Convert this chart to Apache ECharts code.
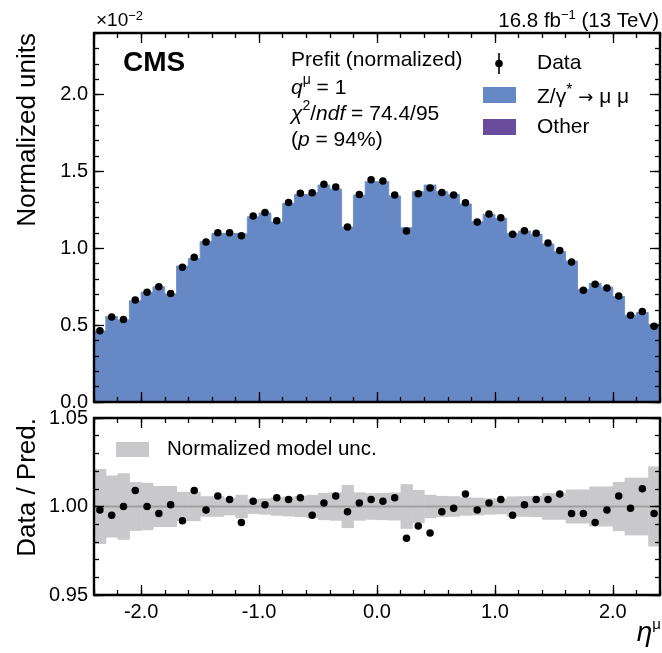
<!DOCTYPE html>
<html>
<head>
<meta charset="utf-8">
<script src="https://cdn.jsdelivr.net/npm/echarts@6/dist/echarts.min.js"></script>
<style>html,body{margin:0;padding:0;background:#fff}#c{width:662px;height:653px}</style>
</head>
<body>
<div id="c"></div>
<script>
// ---- data ----
const etaEdges = [-2.4,-2.3,-2.2,-2.1,-2.0,-1.9,-1.8,-1.7,-1.6,-1.5,-1.4,-1.3,-1.2,-1.1,-1.0,-0.9,-0.8,-0.7,-0.6,-0.5,-0.4,-0.3,-0.2,-0.1,
  0.0,0.1,0.2,0.3,0.4,0.5,0.6,0.7,0.8,0.9,1.0,1.1,1.2,1.3,1.4,1.5,1.6,1.7,1.8,1.9,2.0,2.1,2.2,2.3,2.4];
// Z/gamma* -> mumu prediction (x 10^-2)
const predZmumu = [0.463,0.556,0.534,0.658,0.714,0.749,0.703,0.885,0.933,1.043,1.097,1.097,1.093,1.205,1.229,1.171,1.292,1.350,1.363,1.411,1.385,1.138,1.346,1.433,
  1.433,1.340,1.134,1.368,1.411,1.368,1.350,1.288,1.173,1.221,1.195,1.097,1.112,1.091,1.028,0.978,0.917,0.733,0.772,0.747,0.686,0.565,0.582,0.506];
// observed data (x 10^-2)
const dataValues = [0.463,0.553,0.537,0.664,0.714,0.749,0.705,0.876,0.941,1.041,1.101,1.101,1.082,1.210,1.233,1.179,1.298,1.357,1.361,1.416,1.398,1.138,1.350,1.446,
  1.437,1.346,1.112,1.355,1.392,1.363,1.346,1.296,1.171,1.223,1.199,1.091,1.114,1.097,1.034,0.985,0.911,0.727,0.766,0.742,0.690,0.565,0.588,0.493];
// data / prediction
const ratioValues = [0.998,0.995,1.000,1.009,1.000,0.996,1.001,0.992,1.009,0.998,1.006,1.004,0.991,1.003,1.001,1.005,1.004,1.005,0.995,1.002,1.006,0.997,1.002,1.004,
  1.003,1.005,0.982,0.989,0.985,0.997,0.999,1.007,0.998,1.002,1.004,0.995,1.001,1.004,1.004,1.007,0.996,0.996,0.991,0.998,1.006,0.999,1.010,0.996];
// normalized model uncertainty (relative half width)
const modelUnc = [0.0212,0.0175,0.0188,0.0138,0.0134,0.0116,0.0116,0.0083,0.0083,0.0058,0.0058,0.0050,0.0066,0.0042,0.0046,0.0052,0.0056,0.0060,0.0066,0.0077,0.0080,0.0122,0.0080,0.0075,
  0.0077,0.0079,0.0126,0.0094,0.0066,0.0060,0.0058,0.0052,0.0050,0.0046,0.0044,0.0057,0.0058,0.0060,0.0075,0.0075,0.0096,0.0096,0.0113,0.0113,0.0139,0.0163,0.0163,0.0226];
// ticks
const xMajorTicks = [-2, -1, 0, 1, 2];
const xMinorTicks = [-2.4,-2.2,-2.0,-1.8,-1.6,-1.4,-1.2,-1.0,-0.8,-0.6,-0.4,-0.2,0,0.2,0.4,0.6,0.8,1.0,1.2,1.4,1.6,1.8,2.0,2.2,2.4];
const yMainMajorTicks = [0, 0.5, 1.0, 1.5, 2.0];
const yMainMinorTicks = [0,0.1,0.2,0.3,0.4,0.5,0.6,0.7,0.8,0.9,1.0,1.1,1.2,1.3,1.4,1.5,1.6,1.7,1.8,1.9,2.0,2.1,2.2,2.3,2.4];
const yRatioMajorTicks = [0.95, 1.00, 1.05];
const yRatioMinorTicks = [0.95,0.96,0.97,0.98,0.99,1.00,1.01,1.02,1.03,1.04,1.05];

// ---- styling ----
const FF = '"Liberation Sans", Arial, Helvetica, sans-serif';
const BLUE = '#6688c5', PURPLE = '#6a4c9c', GREY = '#c9c9cb';
const TS = 21; // annotation font size

function mkAxis(o) {
  return {
    type: 'value', gridIndex: o.grid, position: o.pos, min: o.min, max: o.max, z: 10,
    axisLine: { show: !!o.line, onZero: false, lineStyle: { color: '#000', width: 2.4 } },
    axisTick: { show: true, inside: true, length: o.len, customValues: o.ticks, lineStyle: { color: '#000', width: 1.3 } },
    axisLabel: o.labels ? { show: true, customValues: o.labels, margin: o.margin, color: '#000', fontSize: 20, fontFamily: FF, formatter: o.fmt } : { show: false },
    splitLine: { show: false }, minorTick: { show: false }, minorSplitLine: { show: false }
  };
}
const f1 = v => v.toFixed(1), f2 = v => v.toFixed(2);
const xAxes = [], yAxes = [];
[0, 1].forEach(g => {
  xAxes.push(mkAxis({ grid: g, pos: 'bottom', min: -2.4, max: 2.4, line: true, len: 10, ticks: xMajorTicks, labels: g === 1 ? xMajorTicks : null, margin: 7, fmt: f1 }));
  xAxes.push(mkAxis({ grid: g, pos: 'bottom', min: -2.4, max: 2.4, len: 5, ticks: xMinorTicks }));
  xAxes.push(mkAxis({ grid: g, pos: 'top', min: -2.4, max: 2.4, line: true, len: 10, ticks: xMajorTicks }));
  xAxes.push(mkAxis({ grid: g, pos: 'top', min: -2.4, max: 2.4, len: 5, ticks: xMinorTicks }));
});
yAxes.push(mkAxis({ grid: 0, pos: 'left', min: 0, max: 2.4, line: true, len: 10, ticks: yMainMajorTicks, labels: yMainMajorTicks, margin: 6, fmt: f1 }));
yAxes.push(mkAxis({ grid: 0, pos: 'left', min: 0, max: 2.4, len: 5, ticks: yMainMinorTicks }));
yAxes.push(mkAxis({ grid: 0, pos: 'right', min: 0, max: 2.4, line: true, len: 10, ticks: yMainMajorTicks }));
yAxes.push(mkAxis({ grid: 0, pos: 'right', min: 0, max: 2.4, len: 5, ticks: yMainMinorTicks }));
yAxes.push(mkAxis({ grid: 1, pos: 'left', min: 0.95, max: 1.05, line: true, len: 10, ticks: yRatioMajorTicks, labels: yRatioMajorTicks, margin: 6, fmt: f2 }));
yAxes.push(mkAxis({ grid: 1, pos: 'left', min: 0.95, max: 1.05, len: 5, ticks: yRatioMinorTicks }));
yAxes.push(mkAxis({ grid: 1, pos: 'right', min: 0.95, max: 1.05, line: true, len: 10, ticks: yRatioMajorTicks }));
yAxes.push(mkAxis({ grid: 1, pos: 'right', min: 0.95, max: 1.05, len: 5, ticks: yRatioMinorTicks }));

const centers = etaEdges.slice(0, -1).map((e, i) => (e + etaEdges[i + 1]) / 2);
// step histogram outline: value held from each left edge to the next edge
const histStep = predZmumu.map((v, i) => [etaEdges[i], v]);
histStep.push([etaEdges[etaEdges.length - 1], predZmumu[predZmumu.length - 1]]);

function txt(x, y, text, extra, rich) {
  const st = Object.assign({ text: text, fill: '#000', fontFamily: FF, fontSize: TS, align: 'left', verticalAlign: 'middle' }, extra || {});
  if (rich) st.rich = rich;
  return { type: 'text', x: x, y: y, z: 100, style: st };
}
const supRich = {
  n: { fontFamily: FF, fontSize: TS, lineHeight: 25, verticalAlign: 'bottom' },
  i: { fontFamily: FF, fontSize: TS, fontStyle: 'italic', lineHeight: 25, verticalAlign: 'bottom' },
  a: { fontFamily: '"DejaVu Sans", sans-serif', fontSize: 18, lineHeight: 25, verticalAlign: 'bottom' },
  s: { fontFamily: FF, fontSize: 14, verticalAlign: 'top', lineHeight: 15 },
  st: { fontFamily: FF, fontSize: 16, verticalAlign: 'top', lineHeight: 17 }
};

const option = {
  animation: false,
  backgroundColor: '#fff',
  grid: [
    { left: 94, top: 33, width: 566, height: 369, containLabel: false, outerBoundsMode: 'none' },
    { left: 94, top: 418, width: 566, height: 177, containLabel: false, outerBoundsMode: 'none' }
  ],
  xAxis: xAxes,
  yAxis: yAxes,
  series: [
    {
      name: 'Z/γ* → μμ', type: 'line', step: 'end', xAxisIndex: 0, yAxisIndex: 0, z: 2,
      showSymbol: false, silent: true,
      lineStyle: { width: 1, color: '#7594cc' },
      areaStyle: { color: BLUE, opacity: 1, origin: 'start' },
      data: histStep
    },
    {
      name: 'Data', type: 'scatter', xAxisIndex: 0, yAxisIndex: 0, z: 5,
      symbol: 'circle', symbolSize: 7.5, itemStyle: { color: '#000', opacity: 1 },
      data: dataValues.map((v, i) => [centers[i], v])
    },
    {
      name: 'Normalized model unc.', type: 'custom', xAxisIndex: 4, yAxisIndex: 4, z: 2,
      data: modelUnc.map((u, i) => [etaEdges[i], etaEdges[i + 1], 1 - u, 1 + u]),
      encode: { x: [0, 1], y: [2, 3] },
      renderItem: function (params, api) {
        const p0 = api.coord([api.value(0), api.value(3)]);
        const p1 = api.coord([api.value(1), api.value(2)]);
        return { type: 'rect', shape: { x: p0[0], y: p0[1], width: p1[0] - p0[0] + 0.5, height: p1[1] - p0[1] },
          style: { fill: GREY } };
      }
    },
    {
      type: 'line', xAxisIndex: 4, yAxisIndex: 4, z: 3, showSymbol: false, silent: true,
      lineStyle: { color: '#a0a0a0', width: 2 },
      data: [[etaEdges[0], 1], [etaEdges[etaEdges.length - 1], 1]]
    },
    {
      name: 'Data / Pred.', type: 'scatter', xAxisIndex: 4, yAxisIndex: 4, z: 5,
      symbol: 'circle', symbolSize: 7.5, itemStyle: { color: '#000', opacity: 1 },
      data: ratioValues.map((v, i) => [centers[i], v])
    }
  ],
  graphic: [
    // header
    txt(96, 20, '{n|×10}{s|−2}', {}, { n: { fontFamily: FF, fontSize: 19, lineHeight: 21, verticalAlign: 'bottom' }, s: { fontFamily: FF, fontSize: 13, verticalAlign: 'top', lineHeight: 13 } }),
    txt(659, 20, '{n|16.8 fb}{s|−1}{n| (13 TeV)}', { align: 'right' }, { n: { fontFamily: FF, fontSize: 20.5, lineHeight: 23, verticalAlign: 'bottom' }, s: { fontFamily: FF, fontSize: 13, verticalAlign: 'top', lineHeight: 13 } }),
    // CMS label
    txt(123, 63, 'CMS', { fontSize: 28, fontWeight: 'bold' }),
    // fit info
    txt(291, 60, 'Prefit (normalized)'),
    txt(291, 86, '{i|q}{s|μ}{n| = 1}', {}, supRich),
    txt(291, 112, '{i|χ}{s|2}{n|/}{i|ndf}{n| = 74.4/95}', {}, supRich),
    txt(291, 138, '{n|(}{i|p}{n| = 94%)}', {}, supRich),
    // legend
    { type: 'line', z: 100, shape: { x1: 499, y1: 53, x2: 499, y2: 74 }, style: { stroke: '#000', lineWidth: 1.6 } },
    { type: 'circle', z: 100, shape: { cx: 499, cy: 63.5, r: 3.8 }, style: { fill: '#000' } },
    txt(537, 63, 'Data'),
    { type: 'rect', z: 100, shape: { x: 483, y: 87, width: 33, height: 16 }, style: { fill: BLUE } },
    txt(537, 95, '{n|Z/γ}{st|*}{n| }{a|→}{n| μ μ}', {}, supRich),
    { type: 'rect', z: 100, shape: { x: 483, y: 119, width: 33, height: 16 }, style: { fill: PURPLE } },
    txt(537, 127, 'Other'),
    // ratio legend
    { type: 'rect', z: 100, shape: { x: 116, y: 442, width: 33, height: 15 }, style: { fill: GREY } },
    txt(167, 449, 'Normalized model unc.', { fontSize: 20.5 }),
    // axis titles
    { type: 'text', z: 100, x: 28, y: 33, rotation: Math.PI / 2,
      style: { text: 'Normalized units', fill: '#000', fontFamily: FF, fontSize: 26, align: 'right', verticalAlign: 'middle' } },
    { type: 'text', z: 100, x: 28, y: 418, rotation: Math.PI / 2,
      style: { text: 'Data / Pred.', fill: '#000', fontFamily: FF, fontSize: 26, align: 'right', verticalAlign: 'middle' } },
    txt(661, 632, '{e|η}{s|μ}', { align: 'right' }, { e: { fontFamily: FF, fontSize: 28, fontStyle: 'italic', lineHeight: 30, verticalAlign: 'bottom' }, s: { fontFamily: FF, fontSize: 15, verticalAlign: 'top', lineHeight: 16 } })
  ]
};

const chart = echarts.init(document.getElementById('c'), null, { renderer: 'canvas', width: 662, height: 653 });
chart.setOption(option);
</script>
</body>
</html>
